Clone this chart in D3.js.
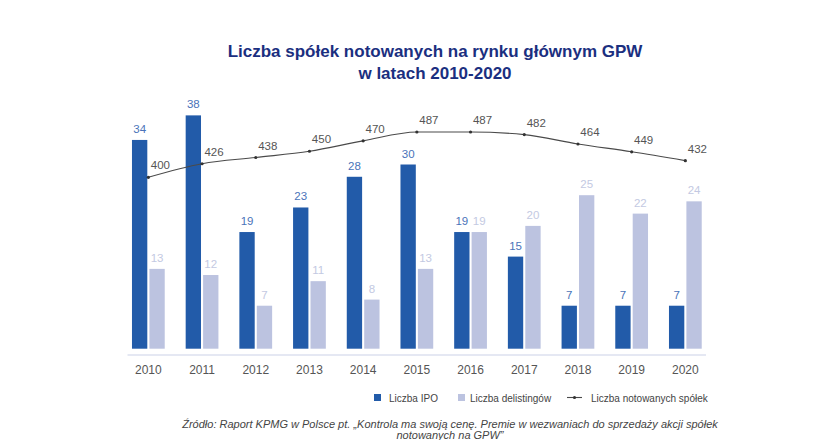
<!DOCTYPE html>
<html>
<head>
<meta charset="utf-8">
<script src="https://cdn.jsdelivr.net/npm/d3@7"></script>
<style>
  html, body { margin: 0; padding: 0; background: #ffffff; }
  svg { display: block; font-family: "Liberation Sans", Arial, sans-serif; }
</style>
</head>
<body>
<svg id="chart" width="835" height="440"></svg>
<script>
const years = ["2010","2011","2012","2013","2014","2015","2016","2017","2018","2019","2020"];
const ipo = [34, 38, 19, 23, 28, 30, 19, 15, 7, 7, 7];
const delistings = [13, 12, 7, 11, 8, 13, 19, 20, 25, 22, 24];
const listed = [400, 426, 438, 450, 470, 487, 487, 482, 464, 449, 432];
const seriesNames = ["Liczba IPO", "Liczba delistingów", "Liczba notowanych spółek"];
const titleLines = ["Liczba spółek notowanych na rynku głównym GPW", "w latach 2010-2020"];
const sourceLines = ["Źródło: Raport KPMG w Polsce pt. „Kontrola ma swoją cenę. Premie w wezwaniach do sprzedaży akcji spółek", "notowanych na GPW”"];

const C_IPO = "#225ba9", C_DEL = "#bcc3e0", C_LINE = "#4a4a4a";
const C_IPO_TXT = "#4a73b9", C_DEL_TXT = "#c3c9e2", C_TXT = "#555555";

const svg = d3.select("#chart");

const x = d3.scaleBand().domain(years).range([121.5, 712.2]).paddingInner(0.39).paddingOuter(0.195);
const xs = d3.scaleBand().domain(["ipo","del"]).range([0, x.bandwidth()]).paddingInner(0.12);
const y = d3.scaleLinear().domain([0, 40]).range([348.7, 103.1]);
const yl = d3.scaleLinear().domain([400, 487]).range([177.3, 132]);

// title
svg.append("g").selectAll("text").data(titleLines).join("text")
  .attr("x", 435).attr("y", (d, i) => 57 + i * 22)
  .attr("text-anchor", "middle").attr("font-size", 17).attr("font-weight", "bold")
  .attr("fill", "#1b2f80").text(d => d);

// x axis
const xAxis = d3.axisBottom(x).tickSize(0).tickPadding(10);
const gx = svg.append("g").attr("transform", "translate(0,355)").call(xAxis);
gx.select(".domain").attr("stroke", "#ccd2e8").attr("stroke-width", 1.2)
  .attr("d", "M127.5,0H706");
gx.selectAll("text").attr("font-size", 12).attr("fill", C_TXT)
  .attr("font-family", "Liberation Sans, Arial, sans-serif");

// bars
const groups = svg.append("g").selectAll("g").data(years).join("g")
  .attr("transform", d => `translate(${x(d)},0)`);
groups.append("rect").attr("x", xs("ipo")).attr("width", xs.bandwidth())
  .attr("y", (d, i) => y(ipo[i])).attr("height", (d, i) => y(0) - y(ipo[i])).attr("fill", C_IPO);
groups.append("rect").attr("x", xs("del")).attr("width", xs.bandwidth())
  .attr("y", (d, i) => y(delistings[i])).attr("height", (d, i) => y(0) - y(delistings[i])).attr("fill", C_DEL);
groups.append("text").attr("x", xs("ipo") + xs.bandwidth() / 2).attr("y", (d, i) => y(ipo[i]) - 7)
  .attr("text-anchor", "middle").attr("font-size", 11.5).attr("fill", C_IPO_TXT).text((d, i) => ipo[i]);
groups.append("text").attr("x", xs("del") + xs.bandwidth() / 2).attr("y", (d, i) => y(delistings[i]) - 7)
  .attr("text-anchor", "middle").attr("font-size", 11.5).attr("fill", C_DEL_TXT).text((d, i) => delistings[i]);

// line
const cx = d => x(d) + x.bandwidth() / 2;
const line = d3.line().x((d, i) => cx(years[i])).y(d => yl(d)).curve(d3.curveMonotoneX);
svg.append("path").datum(listed).attr("d", line).attr("fill", "none")
  .attr("stroke", C_LINE).attr("stroke-width", 1.1);
svg.append("g").selectAll("circle").data(listed).join("circle")
  .attr("cx", (d, i) => cx(years[i])).attr("cy", d => yl(d)).attr("r", 1.6).attr("fill", "#333");
svg.append("g").selectAll("text").data(listed).join("text")
  .attr("x", (d, i) => cx(years[i]) + 12).attr("y", d => yl(d) - 8)
  .attr("text-anchor", "middle").attr("font-size", 11.5).attr("fill", C_TXT).text(d => d);

// legend
const lg = svg.append("g").attr("font-size", 10).attr("fill", "#444");
lg.append("rect").attr("x", 374).attr("y", 394).attr("width", 7).attr("height", 7).attr("fill", C_IPO);
lg.append("text").attr("x", 389).attr("y", 401.5).text(seriesNames[0]);
lg.append("rect").attr("x", 458).attr("y", 394).attr("width", 7).attr("height", 7).attr("fill", C_DEL);
lg.append("text").attr("x", 470).attr("y", 401.5).text(seriesNames[1]);
lg.append("line").attr("x1", 567).attr("x2", 582).attr("y1", 397.5).attr("y2", 397.5)
  .attr("stroke", C_LINE).attr("stroke-width", 1.1);
lg.append("circle").attr("cx", 574.5).attr("cy", 397.5).attr("r", 1.6).attr("fill", "#333");
lg.append("text").attr("x", 591).attr("y", 401.5).text(seriesNames[2]);

// source
svg.append("g").selectAll("text").data(sourceLines).join("text")
  .attr("x", 450).attr("y", (d, i) => 428 + i * 11)
  .attr("text-anchor", "middle").attr("font-size", 11).attr("font-style", "italic")
  .attr("fill", "#444").text(d => d);
</script>
</body>
</html>
